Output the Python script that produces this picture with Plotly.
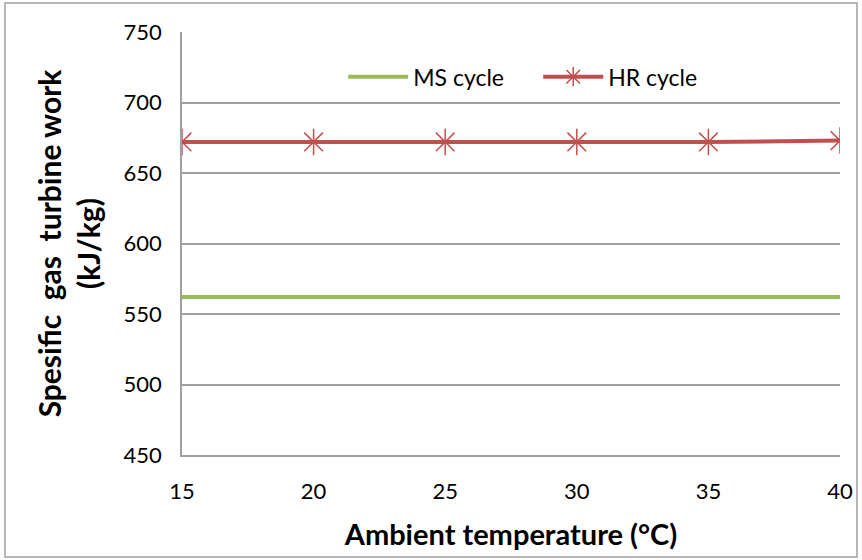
import plotly.graph_objects as go

temps = [15, 20, 25, 30, 35, 40]
ms_work = [562, 562, 562, 562, 562, 562]
hr_work = [672, 672, 672, 672, 672, 673]

fig = go.Figure()
fig.add_trace(go.Scatter(x=temps, y=ms_work, name="MS cycle", mode="lines",
                         line=dict(color="#9BBB59", width=4)))
fig.add_trace(go.Scatter(x=temps, y=hr_work, name="HR cycle", mode="lines+markers",
                         line=dict(color="#C0504D", width=4),
                         marker=dict(symbol="asterisk-open", size=22,
                                     line=dict(color="#C0504D", width=1.5))))

font = "Lato, 'Open Sans', sans-serif"
# plot area: x 182..840, y 32..455
fig.update_layout(
    width=862, height=560,
    margin=dict(l=182, r=22, t=32, b=105, autoexpand=False),
    plot_bgcolor="white", paper_bgcolor="white",
    font=dict(family=font, size=22, color="black"),
    legend=dict(orientation="h", x=0.245, y=0.945, xanchor="left", yanchor="top",
                font=dict(size=23), bgcolor="rgba(0,0,0,0)", itemwidth=60,
                entrywidth=120, entrywidthmode="pixels"),
    showlegend=True,
)
fig.update_xaxes(range=[15, 40], tickvals=temps, showgrid=False,
                 showline=True, linecolor="#A0A0A0", linewidth=1.5,
                 ticks="", ticklabelstandoff=16,
                 title=dict(text="<b>Ambient temperature (°C)</b>", font=dict(size=29), standoff=22))
fig.update_yaxes(range=[450, 750], dtick=50, showgrid=True, gridcolor="#A0A0A0", gridwidth=1.5,
                 showline=True, linecolor="#A0A0A0", linewidth=1.5,
                 ticks="", ticklabelstandoff=14, zeroline=False,
                 title=dict(text="<b>Spesific  gas  turbine work<br>(kJ/kg)</b>", font=dict(size=30), standoff=14))

# outer chart border
pw, ph = 862 - 182 - 22, 560 - 32 - 105
fig.add_shape(type="rect", xref="paper", yref="paper",
              x0=(5 - 182) / pw, x1=(857 - 182) / pw,
              y0=(455 - 557) / ph, y1=(455 - 3) / ph,
              line=dict(color="#A0A0A0", width=1.5))

fig.write_html("out.html", config={"displayModeBar": False},
               post_script="document.body.style.margin='0';")
